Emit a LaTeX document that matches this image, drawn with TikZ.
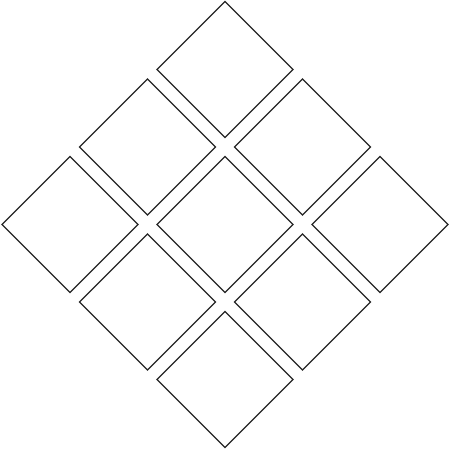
\documentclass[tikz,border=0pt]{standalone}
\begin{document}
\begin{tikzpicture}[x=1pt,y=-1pt,
  tile/.style={draw=black!85, line width=1.2pt, rectangle, rotate=45, minimum size=96.2pt, inner sep=0pt}]
\useasboundingbox (0,0) rectangle (450,450);
\foreach \i in {0,1,2}{
  \foreach \j in {0,1,2}{
    \node[tile] (t\i\j) at ({225+77.5*(\i-\j)}, {69.5+77.5*(\i+\j)}) {};
  }
}
\end{tikzpicture}
\end{document}
